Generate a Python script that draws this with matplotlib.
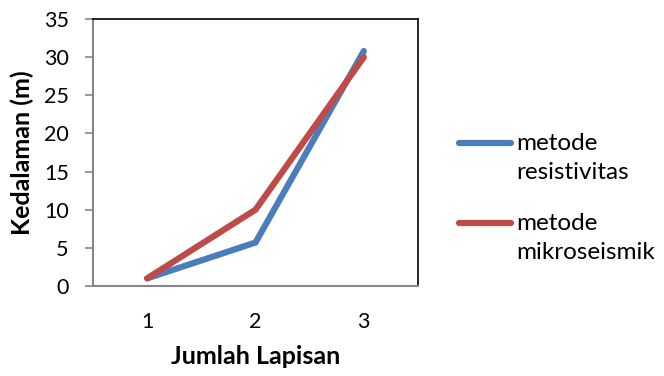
import matplotlib
matplotlib.use("Agg")
import matplotlib.pyplot as plt
from matplotlib.lines import Line2D

categories = ["1", "2", "3"]
resistivitas = [1.0, 5.7, 30.8]
mikroseismik = [1.0, 10.0, 30.0]
series_names = ["metode\nresistivitas", "metode\nmikroseismik"]
colors = ["#4a7ebb", "#be4b48"]
yticks = [0, 5, 10, 15, 20, 25, 30, 35]

plt.rcParams['font.family'] = ['Lato', 'DejaVu Sans']

fig = plt.figure(figsize=(6.64, 3.76), dpi=100)
ax = fig.add_axes([93/664, 1-286/376, (418-93)/664, (286-19)/376])

x = list(range(len(categories)))
ax.plot(x, resistivitas, color=colors[0], lw=4.5, solid_capstyle='round', solid_joinstyle='miter', zorder=3)
ax.plot(x, mikroseismik, color=colors[1], lw=4.5, solid_capstyle='round', solid_joinstyle='miter', zorder=4)

ax.set_xlim(-0.5, 2.5)
ax.set_ylim(0, 35)
ax.set_yticks(yticks)
ax.set_xticks(x)
ax.set_xticklabels(categories)
ax.tick_params(axis='y', direction='out', length=5.5, width=1.2, color='#868686', labelsize=15.5, pad=12)
ax.tick_params(axis='x', length=0, labelsize=15.5, pad=19)

for s in ['top', 'right']:
    ax.spines[s].set_color('black')
    ax.spines[s].set_linewidth(1.2)
for s in ['left', 'bottom']:
    ax.spines[s].set_color('#868686')
    ax.spines[s].set_linewidth(1.5)

ax.set_ylabel("Kedalaman (m)", fontsize=18, fontweight='bold', labelpad=7)
ax.set_xlabel("Jumlah Lapisan", fontsize=18, fontweight='bold', labelpad=9)

# legend
leg_y = [143, 223]
for name, c, yy in zip(series_names, colors, leg_y):
    fig.add_artist(Line2D([459/664, 511/664], [1-yy/376, 1-yy/376], color=c, lw=4.5,
                          solid_capstyle='round', transform=fig.transFigure))
    fig.text(516/664, 1-(yy-10)/376, name, fontsize=17.5, va='top', ha='left', linespacing=1.45)

fig.savefig("out.png", dpi=100)
